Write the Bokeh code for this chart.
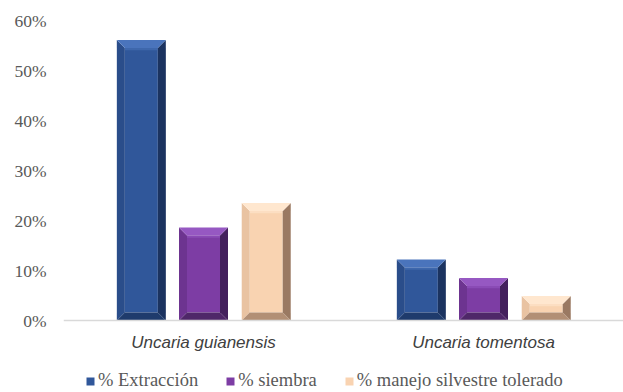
import numpy as np
from bokeh.plotting import figure
from bokeh.models import FixedTicker, Legend, LegendItem, Range1d, Span
from bokeh.core.properties import value
from bokeh.embed import file_html
from bokeh.resources import INLINE

# data
species = ["Uncaria guianensis", "Uncaria tomentosa"]
series = ["% Extracción", "% siembra", "% manejo silvestre tolerado"]
extraccion = [56.1, 12.2]
siembra = [18.6, 8.5]
manejo = [23.5, 4.9]
y_ticks = [0, 10, 20, 30, 40, 50, 60]

values = [extraccion, siembra, manejo]

# bevel palettes: front, top, left, right, bottom
palettes = [
    ("#30579A", "#4A74BC", "#2A4D8A", "#1B3360", "#1F3B6C"),
    ("#7D3DA4", "#9658C2", "#6D3490", "#44215D", "#4F2769"),
    ("#F9D3B1", "#FFE7CF", "#E9C3A2", "#9A7962", "#B28F75"),
]

# the frame runs to the bottom edge so the category names and the legend
# sit inside it, below the zero line
FRAME_W, FRAME_H = 560, 372
Y_MAX = 60
Y_MIN = -14.4
px_x = 2.0 / FRAME_W
px_y = (Y_MAX - Y_MIN) / FRAME_H

p = figure(
    output_backend="svg", toolbar_location=None,
    width=623, height=392,
    x_range=Range1d(0, 2), y_range=Range1d(Y_MIN, Y_MAX),
    min_border_left=63, min_border_right=0, min_border_top=20, min_border_bottom=0,
    background_fill_color="white", border_fill_color="white",
)
p.outline_line_color = None
p.grid.visible = False

bar_w = 0.175
offsets = [-0.222, 0.0, 0.224]
bev_x = 8 * px_x
bev_y = 8 * px_y

legend_items = []
for s, (vals, pal) in enumerate(zip(values, palettes)):
    front, top, left, right, bottom = pal
    x0 = np.array([i + 0.5 + offsets[s] - bar_w / 2 for i in range(len(species))])
    x1 = x0 + bar_w
    y1 = np.array(vals, dtype=float)

    fr = p.quad(left=x0 + bev_x, right=x1 - bev_x, bottom=bev_y, top=y1 - bev_y,
                fill_color=front, line_color=None)
    # soft highlight band under the top bevel
    p.quad(left=x0 + bev_x, right=x1 - bev_x, bottom=y1 - bev_y - 2.2 * px_y, top=y1 - bev_y,
           fill_color=top, fill_alpha=0.55, line_color=None)

    tops_x = [[a, b, b - bev_x, a + bev_x] for a, b in zip(x0, x1)]
    tops_y = [[t, t, t - bev_y, t - bev_y] for t in y1]
    bots_y = [[0, 0, bev_y, bev_y] for _ in y1]
    lefts_x = [[a, a + bev_x, a + bev_x, a] for a in x0]
    sides_y = [[0, bev_y, t - bev_y, t] for t in y1]
    rights_x = [[b, b - bev_x, b - bev_x, b] for b in x1]

    p.patches(lefts_x, sides_y, fill_color=left, line_color=None)
    p.patches(rights_x, sides_y, fill_color=right, line_color=None)
    p.patches(tops_x, bots_y, fill_color=bottom, line_color=None)
    p.patches(tops_x, tops_y, fill_color=top, line_color=None)
    legend_items.append(LegendItem(label=series[s], renderers=[fr]))

# category axis: baseline plus centred species names
p.add_layout(Span(location=0, dimension="width", line_color="#D9D9D9", line_width=1.5))
p.text(x=[i + 0.5 for i in range(len(species))], y=[-22 * px_y] * len(species), text=species,
       text_font=value("Liberation Sans"), text_font_style="italic",
       text_font_size="17px", text_color="#404040",
       text_align="center", text_baseline="middle")
p.xaxis.visible = False

# value axis
p.yaxis.ticker = FixedTicker(ticks=y_ticks)
p.yaxis.major_label_overrides = {v: f"{v}%" for v in y_ticks}
p.yaxis.axis_line_color = None
p.yaxis.major_tick_line_color = None
p.yaxis.minor_tick_line_color = None
p.yaxis.major_label_text_font = "Liberation Serif"
p.yaxis.major_label_text_font_size = "17.5px"
p.yaxis.major_label_text_color = "#595959"
p.yaxis.major_label_standoff = 11

legend = Legend(items=legend_items, orientation="horizontal", location=(22, 1),
                glyph_width=10, glyph_height=10, label_standoff=3, spacing=27,
                label_text_font="Liberation Serif", label_text_font_size="18.5px",
                label_text_color="#595959", border_line_color=None,
                background_fill_alpha=0, margin=0, padding=0)
p.add_layout(legend, "center")

open("out.html", "w").write(file_html(p, INLINE))
